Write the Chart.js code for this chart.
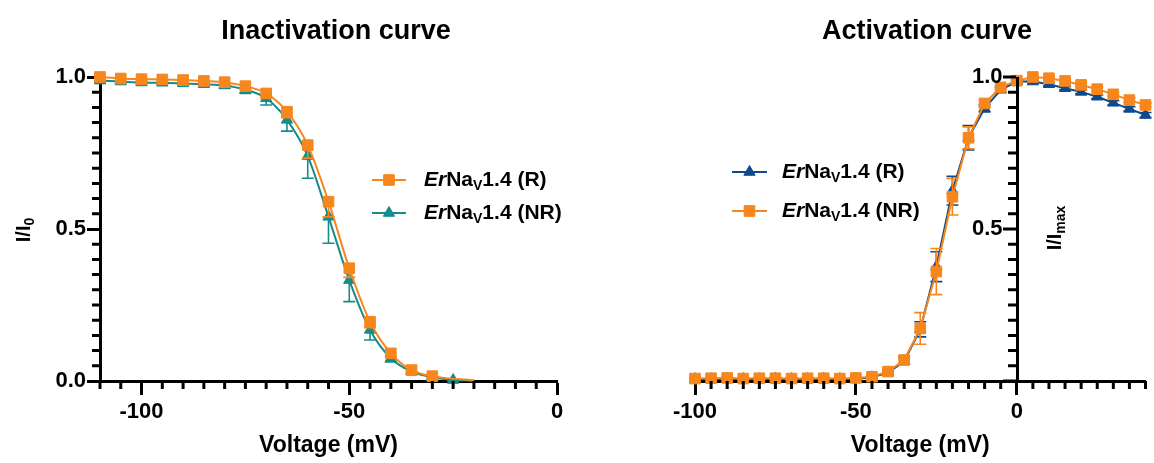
<!DOCTYPE html>
<html>
<head>
<meta charset="utf-8">
<script src="https://cdn.jsdelivr.net/npm/chart.js@4.4.0/dist/chart.umd.min.js"></script>
<style>
  html, body { margin: 0; padding: 0; background: #fff; }
  #wrap { position: relative; width: 1154px; height: 463px; overflow: hidden; }
  .box { position: absolute; top: 0; width: 577px; height: 463px; overflow: hidden; }
  .box canvas { display: block; }
  #leftBox { left: 0; }
  #rightBox { left: 577px; }
</style>
</head>
<body>
<div id="wrap">
  <div class="box" id="leftBox"><canvas id="inactChart" width="577" height="463"></canvas></div>
  <div class="box" id="rightBox"><canvas id="actChart" width="577" height="463"></canvas></div>
</div>
<script>
// Inactivation curve: I/I0 vs prepulse voltage (mV), error = SEM (drawn below the mean)
const inactVoltR  = [-110, -105, -100, -95, -90, -85, -80, -75, -70, -65, -60, -55, -50, -45, -40, -35, -30];
const inactR      = [1.000, 0.995, 0.993, 0.992, 0.990, 0.987, 0.983, 0.970, 0.946, 0.886, 0.776, 0.590, 0.371, 0.195, 0.091, 0.036, 0.016];
const inactErrR   = [0.003, 0.003, 0.004, 0.004, 0.004, 0.005, 0.006, 0.008, 0.012, 0.020, 0.043, 0.050, 0.030, 0.020, 0.010, 0.006, 0.004];

const inactVoltNR = [-110, -105, -100, -95, -90, -85, -80, -75, -70, -65, -60, -55, -50, -45, -40, -35, -30, -25];
const inactNR     = [0.988, 0.985, 0.982, 0.981, 0.979, 0.976, 0.972, 0.958, 0.930, 0.859, 0.740, 0.540, 0.332, 0.168, 0.075, 0.031, 0.012, 0.003];
const inactErrNR  = [0.005, 0.005, 0.005, 0.005, 0.006, 0.006, 0.008, 0.012, 0.022, 0.037, 0.073, 0.087, 0.071, 0.033, 0.012, 0.008, 0.005, 0.003];

// where the fitted curves run out to
const fitEndVolt = -20;
const fitEndR = 0.002;
const fitEndNR = 0.001;

// Activation curve: I/Imax vs test voltage (mV), error = SEM (both sides)
const actVolt  = [-100, -95, -90, -85, -80, -75, -70, -65, -60, -55, -50, -45, -40, -35, -30, -25, -20, -15, -10, -5, 0, 5, 10, 15, 20, 25, 30, 35, 40];
const actR     = [0.006, 0.006, 0.007, 0.006, 0.006, 0.007, 0.006, 0.006, 0.007, 0.006, 0.007, 0.012, 0.028, 0.065, 0.170, 0.376, 0.626, 0.800, 0.897, 0.958, 0.985, 0.985, 0.976, 0.963, 0.951, 0.935, 0.915, 0.895, 0.875];
const actErrR  = [0.003, 0.003, 0.003, 0.003, 0.003, 0.003, 0.003, 0.003, 0.003, 0.003, 0.003, 0.004, 0.006, 0.010, 0.025, 0.049, 0.047, 0.040, 0.012, 0.008, 0.005, 0.004, 0.005, 0.005, 0.006, 0.006, 0.007, 0.007, 0.008];
const actNR    = [0.008, 0.009, 0.010, 0.008, 0.009, 0.009, 0.008, 0.009, 0.009, 0.008, 0.010, 0.014, 0.031, 0.069, 0.173, 0.360, 0.606, 0.800, 0.913, 0.966, 0.988, 1.000, 0.996, 0.987, 0.974, 0.960, 0.943, 0.924, 0.908];
const actErrNR = [0.003, 0.003, 0.003, 0.003, 0.003, 0.003, 0.003, 0.003, 0.003, 0.003, 0.003, 0.005, 0.008, 0.012, 0.052, 0.076, 0.060, 0.036, 0.012, 0.006, 0.004, 0.004, 0.004, 0.005, 0.005, 0.006, 0.006, 0.007, 0.007];

const FONT = '"Liberation Sans", Arial, Helvetica, sans-serif';
const ORANGE = '#F7861C';
const TEAL = '#178A8A';
const NAVY = '#0D4B8E';

Chart.defaults.font.family = FONT;
Chart.defaults.color = '#000';

function toXY(xs, ys) {
  return xs.map((x, i) => ({x: x, y: ys[i]}));
}

function isMajor(v, step) {
  let r = v / step;
  return Math.abs(r - Math.round(r)) < 1e-6;
}

// draws a run of text pieces with different fonts, returns the width
function drawParts(ctx, parts, x, y, measureOnly) {
  let cx = x;
  parts.forEach(p => {
    ctx.font = p.font;
    if (!measureOnly) ctx.fillText(p.text, cx, y + (p.dy || 0));
    cx += ctx.measureText(p.text).width;
  });
  return cx - x;
}

function legendParts(tag) {
  return [
    {text: 'Er', font: 'italic bold 21px ' + FONT},
    {text: 'Na', font: 'bold 21px ' + FONT},
    {text: 'V', font: 'bold 14px ' + FONT, dy: 6},
    {text: '1.4 ' + tag, font: 'bold 21px ' + FONT}
  ];
}

// y axis crossing the plot at some x value (activation panel), drawn by hand
function drawCrossingYAxis(chart, ctx, opts) {
  let xs = chart.scales.x;
  let ys = chart.scales.y;
  let area = chart.chartArea;
  let px = Math.round(xs.getPixelForValue(opts.yAxisAt)) + 0.5;
  let values = [];
  let n = Math.round((ys.max - ys.min) / opts.yMinor);
  for (let k = 0; k <= n; k++) values.push(ys.min + k * opts.yMinor);

  ctx.strokeStyle = '#000';
  ctx.lineWidth = 3;
  ctx.beginPath();
  ctx.moveTo(px, area.top);
  ctx.lineTo(px, area.bottom + 1.5);
  values.forEach(v => {
    let py = ys.getPixelForValue(v);
    let len = isMajor(v, opts.yMajor) ? 13 : 8;
    ctx.moveTo(px - 1.5, py);
    ctx.lineTo(px - 1.5 - len, py);
  });
  ctx.stroke();

  ctx.fillStyle = '#000';
  ctx.font = 'bold 22px ' + FONT;
  ctx.textAlign = 'right';
  ctx.textBaseline = 'middle';
  values.forEach(v => {
    // the 0.0 label sits on the x axis and is left out, as in the original
    if (!isMajor(v, opts.yMajor) || v === ys.min) return;
    ctx.fillText(v.toFixed(1), px - 15, ys.getPixelForValue(v));
  });
}

// error bars, minor ticks, titles and the legend (GraphPad look)
const prismDecor = {
  id: 'prismDecor',
  beforeDatasetDraw(chart, args) {
    let ds = chart.data.datasets[args.index];
    if (!ds.errors) return;
    let ctx = chart.ctx;
    let yScale = chart.scales.y;
    ctx.save();
    ctx.strokeStyle = ds.borderColor;
    ctx.lineWidth = 1.6;
    args.meta.data.forEach((pt, i) => {
      let e = ds.errors[i];
      if (!e) return;
      let v = ds.data[i].y;
      let top = ds.errDir === 'down' ? yScale.getPixelForValue(v) : yScale.getPixelForValue(v + e);
      let bot = yScale.getPixelForValue(v - e);
      ctx.beginPath();
      ctx.moveTo(pt.x, top);
      ctx.lineTo(pt.x, bot);
      ctx.moveTo(pt.x - 6, bot);
      ctx.lineTo(pt.x + 6, bot);
      if (ds.errDir !== 'down') {
        ctx.moveTo(pt.x - 6, top);
        ctx.lineTo(pt.x + 6, top);
      }
      ctx.stroke();
    });
    ctx.restore();
  },
  afterDraw(chart, args, opts) {
    let ctx = chart.ctx;
    ctx.save();

    // minor ticks on the bottom axis (and on the left axis)
    ctx.strokeStyle = '#000';
    ctx.lineWidth = 3;
    ctx.beginPath();
    let xs = chart.scales.x;
    xs.ticks.forEach(t => {
      if (isMajor(t.value, opts.xMajor)) return;
      let px = xs.getPixelForValue(t.value);
      ctx.moveTo(px, xs.top);
      ctx.lineTo(px, xs.top + 8);
    });
    let ys = chart.scales.y;
    if (!opts.crossing) {
      ys.ticks.forEach(t => {
        if (isMajor(t.value, opts.yMajor)) return;
        let py = ys.getPixelForValue(t.value);
        ctx.moveTo(ys.right, py);
        ctx.lineTo(ys.right - 8, py);
      });
    }
    ctx.stroke();
    if (opts.crossing) drawCrossingYAxis(chart, ctx, opts);

    // chart title
    ctx.fillStyle = '#000';
    ctx.textAlign = 'center';
    ctx.textBaseline = 'alphabetic';
    ctx.font = 'bold 27px ' + FONT;
    ctx.fillText(opts.title.text, opts.title.x, opts.title.y);

    // rotated y title with subscript
    let yt = opts.yTitle;
    let parts = [
      {text: yt.main, font: 'bold 20px ' + FONT},
      {text: yt.sub, font: 'bold 14px ' + FONT, dy: 6}
    ];
    ctx.textAlign = 'left';
    ctx.textBaseline = 'middle';
    let w = drawParts(ctx, parts, 0, 0, true);
    ctx.save();
    ctx.translate(yt.x, yt.y);
    ctx.rotate(-Math.PI / 2);
    drawParts(ctx, parts, -w / 2, 0);
    ctx.restore();

    // legend
    let lg = opts.legend;
    lg.items.forEach((it, k) => {
      let ds = chart.data.datasets[it.dataset];
      let y = lg.y + k * lg.gap;
      ctx.strokeStyle = ds.borderColor;
      ctx.fillStyle = ds.backgroundColor;
      ctx.lineWidth = 2;
      ctx.beginPath();
      ctx.moveTo(lg.x, y);
      ctx.lineTo(lg.x + lg.lineLen, y);
      ctx.stroke();
      ctx.lineWidth = 1;
      Chart.helpers.drawPoint(ctx, {
        pointStyle: ds.pointStyle, radius: ds.markRadius, borderWidth: 1, rotation: 0
      }, lg.x + lg.lineLen / 2, y);
      ctx.fillStyle = '#000';
      drawParts(ctx, legendParts(it.tag), lg.textX, y);
    });

    ctx.restore();
  }
};

function axisFont(size) {
  return {family: FONT, size: size, weight: 'bold'};
}

function xAxis(min, max, height) {
  return {
    type: 'linear',
    min: min,
    max: max,
    border: {color: '#000', width: 3},
    grid: {
      drawOnChartArea: false,
      tickLength: 14,
      tickWidth: 3,
      tickColor: c => isMajor(c.tick.value, 50) ? '#000' : 'rgba(0,0,0,0)'
    },
    ticks: {
      stepSize: 5,
      autoSkip: false,
      maxRotation: 0,
      padding: 4,
      font: axisFont(22),
      color: '#000',
      callback: v => isMajor(v, 50) ? String(v) : ''
    },
    title: {
      display: true,
      text: 'Voltage (mV)',
      font: axisFont(23),
      color: '#000',
      padding: {top: 0, bottom: 4}
    },
    afterFit: s => {
      s.height = height;
      s.paddingRight = 0;
    }
  };
}

function yAxis(show, width) {
  let ax = {
    type: 'linear',
    min: 0,
    max: 1,
    display: show,
    position: 'left',
    border: {color: '#000', width: 3},
    grid: {
      drawOnChartArea: false,
      tickLength: 13,
      tickWidth: 3,
      tickColor: c => isMajor(c.tick.value, 0.5) ? '#000' : 'rgba(0,0,0,0)'
    },
    ticks: {
      stepSize: 0.05,
      autoSkip: false,
      padding: 1,
      font: axisFont(22),
      color: '#000',
      callback: v => isMajor(v, 0.5) ? v.toFixed(1) : ''
    }
  };
  if (width) ax.afterFit = s => { s.width = width; };
  return ax;
}

function series(label, xs, ys, errs, errDir, color, style, radius, smooth) {
  return {
    label: label,
    data: toXY(xs, ys),
    errors: errs,
    errDir: errDir,
    showLine: true,
    borderColor: color,
    backgroundColor: color,
    borderWidth: 2,
    pointStyle: style,
    pointRadius: radius,
    markRadius: radius,
    pointBorderWidth: 1,
    pointBackgroundColor: color,
    pointBorderColor: color,
    cubicInterpolationMode: smooth ? 'monotone' : 'default',
    tension: 0,
    clip: false
  };
}

function fitTail(ds, endX, endY) {
  // extend the fitted curve past the last measured point, no marker there
  ds.data.push({x: endX, y: endY});
  let n = ds.data.length - 1;
  let r = ds.markRadius;
  ds.pointRadius = c => c.dataIndex < n ? r : 0;
  ds.pointBorderWidth = c => c.dataIndex < n ? 1 : 0;
  return ds;
}

// ---------- Inactivation ----------
let inactR_ds = fitTail(series('ErNaV1.4 (R)', inactVoltR, inactR, inactErrR, 'down', ORANGE, 'rect', 7.5, true), fitEndVolt, fitEndR);
let inactNR_ds = fitTail(series('ErNaV1.4 (NR)', inactVoltNR, inactNR, inactErrNR, 'down', TEAL, 'triangle', 6.5, true), fitEndVolt, fitEndNR);

new Chart(document.getElementById('inactChart').getContext('2d'), {
  type: 'scatter',
  data: {datasets: [inactR_ds, inactNR_ds]},
  plugins: [prismDecor],
  options: {
    responsive: false,
    animation: false,
    devicePixelRatio: 1,
    events: [],
    layout: {padding: {top: 77, right: 20, left: 0, bottom: 0}},
    scales: {
      x: xAxis(-110, 0, 82),
      y: yAxis(true, 100)
    },
    plugins: {
      legend: {display: false},
      tooltip: {enabled: false},
      prismDecor: {
        crossing: false,
        xMajor: 50,
        yMajor: 0.5,
        yMinor: 0.05,
        title: {text: 'Inactivation curve', x: 336, y: 38.5},
        yTitle: {main: 'I/I', sub: '0', x: 24, y: 230},
        legend: {x: 372, y: 180, gap: 33, lineLen: 34, textX: 424,
          items: [{dataset: 0, tag: '(R)'}, {dataset: 1, tag: '(NR)'}]}
      }
    }
  }
});

// ---------- Activation ----------
let actR_ds = series('ErNaV1.4 (R)', actVolt, actR, actErrR, 'both', NAVY, 'triangle', 6.5, false);
let actNR_ds = series('ErNaV1.4 (NR)', actVolt, actNR, actErrNR, 'both', ORANGE, 'rect', 7.5, false);
actR_ds.order = 1;
actNR_ds.order = 0;

new Chart(document.getElementById('actChart').getContext('2d'), {
  type: 'scatter',
  data: {datasets: [actR_ds, actNR_ds]},
  plugins: [prismDecor],
  options: {
    responsive: false,
    animation: false,
    devicePixelRatio: 1,
    events: [],
    layout: {padding: {top: 77, right: 3, left: 118, bottom: 0}},
    scales: {
      x: xAxis(-100, 40, 82),
      y: yAxis(false, null)
    },
    plugins: {
      legend: {display: false},
      tooltip: {enabled: false},
      prismDecor: {
        crossing: true,
        yAxisAt: 0,
        xMajor: 50,
        yMajor: 0.5,
        yMinor: 0.05,
        title: {text: 'Activation curve', x: 350, y: 38.5},
        yTitle: {main: 'I/I', sub: 'max', x: 478, y: 228},
        legend: {x: 155, y: 172, gap: 39, lineLen: 35, textX: 205,
          items: [{dataset: 0, tag: '(R)'}, {dataset: 1, tag: '(NR)'}]}
      }
    }
  }
});
</script>
</body>
</html>
